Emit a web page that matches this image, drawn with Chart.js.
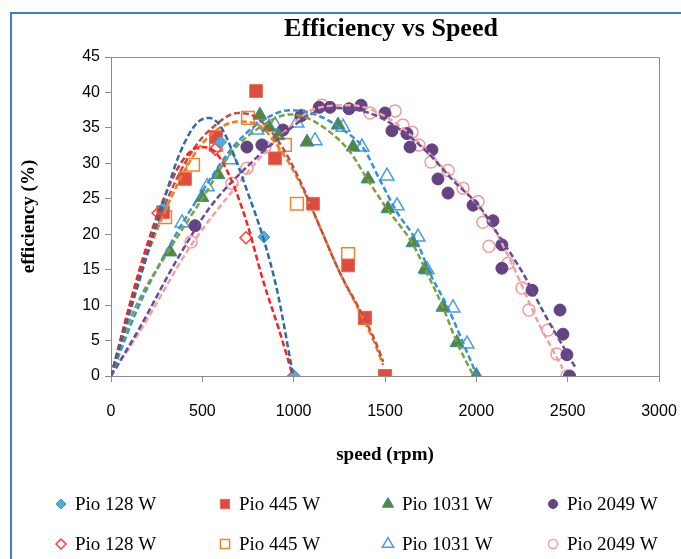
<!DOCTYPE html>
<html>
<head>
<meta charset="utf-8">
<title>Efficiency vs Speed</title>
<script src="https://cdn.jsdelivr.net/npm/chart.js"></script>
<style>
  html, body { margin: 0; padding: 0; background: #fff; }
  #wrap { position: relative; width: 681px; height: 559px; }
</style>
</head>
<body>
<div id="wrap"><canvas id="chartEfficiency" width="681" height="559"></canvas></div>
<script>
// measured points (speed in rpm, efficiency in %)
var speed128a = [285, 600, 837, 1000];
var eff128a = [23.7, 33.0, 19.6, 0];
var speed128b = [258, 570, 739, 1000];
var eff128b = [23.0, 32.0, 19.5, 0];

var speed445a = [285, 405, 575, 794, 898, 1106, 1298, 1390, 1500];
var eff445a = [23.1, 27.8, 33.7, 40.2, 30.7, 24.3, 15.6, 8.2, 0];
var speed445b = [296, 449, 575, 750, 952, 1018, 1298, 1390, 1500];
var eff445b = [22.4, 29.8, 32.6, 36.4, 32.6, 24.3, 17.2, 8.2, 0];

var speed1031a = [323, 498, 586, 815, 865, 915, 1073, 1243, 1325, 1407, 1516, 1653, 1719, 1817, 1894, 2000];
var eff1031a = [17.5, 25.2, 28.4, 36.8, 35.1, 33.9, 33.0, 35.4, 32.3, 27.8, 23.6, 18.8, 15.1, 9.7, 4.7, 0];
var speed1031b = [389, 526, 657, 799, 898, 1018, 1117, 1270, 1374, 1511, 1566, 1681, 1730, 1872, 1949, 2000];
var eff1031b = [21.6, 26.7, 30.5, 34.7, 35.4, 35.7, 33.2, 35.1, 32.3, 28.2, 24.0, 19.6, 15.0, 9.6, 4.5, 0];

var speed2049a = [460, 744, 826, 942, 1040, 1140, 1199, 1303, 1369, 1500, 1538, 1620, 1637, 1757, 1790, 1845, 1982, 2091, 2140, 2140, 2305, 2458, 2474, 2496, 2510];
var eff2049a = [21.2, 32.3, 32.6, 34.7, 36.7, 37.9, 37.9, 37.7, 38.2, 37.1, 34.6, 34.2, 32.3, 31.9, 27.8, 25.8, 24.1, 21.9, 18.5, 15.2, 12.1, 9.3, 5.9, 3.0, 0];
var speed2049b = [438, 662, 744, 843, 1045, 1155, 1418, 1555, 1598, 1648, 1686, 1752, 1845, 1927, 2009, 2036, 2069, 2173, 2250, 2288, 2392, 2441, 2496];
var eff2049b = [18.9, 27.2, 29.3, 32.3, 36.8, 38.2, 37.1, 37.4, 35.4, 34.4, 32.6, 30.2, 29.0, 26.5, 24.6, 21.7, 18.3, 15.9, 12.4, 9.3, 6.5, 3.1, 0];

// trend lines
var fitSpeed128a = [0, 150, 285, 378, 471, 540, 600, 668, 744, 832, 909, 995];
var fitEff128a = [0, 13, 24.4, 31.5, 35.7, 36.4, 35.2, 31.5, 26.2, 19.6, 12.1, 0.4];
var fitSpeed128b = [0, 150, 258, 361, 432, 487, 570, 651, 744, 832, 925, 991];
var fitEff128b = [0, 14.5, 23, 29.1, 31.6, 32.3, 31.6, 28.1, 21.6, 13.5, 6.1, 0.4];
var fitSpeed445a = [0, 150, 306, 449, 558, 695, 799, 925, 1035, 1144, 1254, 1363, 1445, 1490];
var fitEff445a = [0, 14, 24.8, 31.9, 35.1, 37.1, 36.4, 32.8, 27.5, 21, 14.5, 9.3, 5, 2];
var fitSpeed445b = [0, 150, 300, 449, 558, 700, 800, 925, 1035, 1144, 1254, 1363, 1445, 1490];
var fitEff445b = [0, 13.5, 23.5, 31, 34.3, 35.9, 35.5, 32, 27.2, 21, 14.5, 9, 4.5, 1.5];
var fitSpeed1031a = [0, 120, 312, 504, 662, 816, 980, 1073, 1199, 1309, 1407, 1516, 1648, 1730, 1817, 1894, 1985];
var fitEff1031a = [0, 8.9, 17.5, 25.2, 31.6, 35.1, 36.9, 36.4, 34.4, 31.6, 27.6, 23.4, 18.8, 14.5, 9.7, 4.7, 0];
var fitSpeed1031b = [0, 142, 312, 504, 668, 816, 980, 1128, 1254, 1380, 1473, 1566, 1675, 1746, 1845, 1927, 2004];
var fitEff1031b = [0, 9.3, 18, 26.2, 32.3, 35.8, 37.5, 36.8, 35, 32.2, 27.6, 23.1, 18.9, 14.5, 9.6, 4.7, 0];
var fitSpeed2049a = [0, 159, 361, 542, 744, 925, 1106, 1216, 1401, 1566, 1730, 1872, 2020, 2113, 2255, 2370, 2540];
var fitEff2049a = [0, 6.9, 16.4, 23.8, 29.5, 33.7, 37.1, 37.8, 37.2, 35.1, 31.6, 27.6, 23.8, 20.2, 14.5, 8.9, 1.3];
var fitSpeed2049b = [0, 175, 432, 668, 854, 1035, 1106, 1309, 1489, 1653, 1801, 1949, 2091, 2201, 2340, 2474];
var fitEff2049b = [0, 7.0, 18.2, 26.2, 31.9, 36.4, 37.6, 38.2, 36.8, 33.7, 29.8, 25.8, 21.0, 15.5, 7.5, 1.0];

var legendLabels = ["Pio 128 W", "Pio 445 W", "Pio 1031 W", "Pio 2049 W"];

function toPoints(xs, ys) {
    var arr = [];
    for (var i = 0; i < xs.length; i++) {
        arr.push({ x: xs[i], y: ys[i] });
    }
    return arr;
}

function markerSet(label, xs, ys, style, radius, fill, border, bw, legendRadius) {
    return {
        label: label,
        data: toPoints(xs, ys),
        pointStyle: style,
        pointRadius: radius,
        pointHoverRadius: radius,
        backgroundColor: fill,
        borderColor: border,
        pointBorderWidth: bw,
        showLine: false,
        order: 2,
        legendRadius: legendRadius
    };
}

function trendSet(xs, ys, color) {
    return {
        label: "trend",
        isTrend: true,
        data: toPoints(xs, ys),
        showLine: true,
        pointRadius: 0,
        borderColor: color,
        borderWidth: 2.5,
        borderDash: [6, 3],
        cubicInterpolationMode: 'monotone',
        fill: false,
        order: 1
    };
}

var serif = "'Liberation Serif', 'Times New Roman', serif";
var sans = "'Liberation Sans', Arial, sans-serif";

// title, plot frame, outer border and two row legend
var decorPlugin = {
    id: 'decor',
    beforeDraw: function (chart) {
        var ctx = chart.ctx;
        ctx.save();
        ctx.fillStyle = '#fff';
        ctx.fillRect(0, 0, chart.width, chart.height);
        ctx.strokeStyle = '#3b7dd8';
        ctx.lineWidth = 2;
        ctx.beginPath();
        ctx.moveTo(11, chart.height);
        ctx.lineTo(11, 13);
        ctx.lineTo(chart.width, 13);
        ctx.stroke();
        ctx.restore();
    },
    beforeDatasetsDraw: function (chart) {
        var a = chart.chartArea;
        var ctx = chart.ctx;
        ctx.save();
        ctx.strokeStyle = '#8c8c8c';
        ctx.lineWidth = 1;
        ctx.beginPath();
        ctx.moveTo(a.left, a.top + 0.5);
        ctx.lineTo(a.right + 0.5, a.top + 0.5);
        ctx.lineTo(a.right + 0.5, a.bottom);
        ctx.stroke();
        ctx.restore();
    },
    afterDraw: function (chart) {
        var ctx = chart.ctx;
        ctx.save();
        ctx.fillStyle = '#000';
        ctx.font = "bold 26px " + serif;
        ctx.textAlign = 'center';
        ctx.textBaseline = 'middle';
        ctx.fillText("Efficiency vs Speed", 391, 29);

        var colX = [61, 225, 388, 553];
        var rowY = [504, 544];
        var markers = chart.data.datasets.filter(function (d) { return !d.isTrend; });
        ctx.font = "19px " + serif;
        ctx.textAlign = 'left';
        for (var i = 0; i < markers.length; i++) {
            var d = markers[i];
            var col = i % 4;
            var row = i < 4 ? 0 : 1;
            ctx.fillStyle = d.backgroundColor;
            ctx.strokeStyle = d.borderColor;
            ctx.lineWidth = d.pointBorderWidth;
            Chart.helpers.drawPoint(ctx, {
                pointStyle: d.pointStyle,
                radius: d.legendRadius,
                rotation: 0,
                borderWidth: d.pointBorderWidth
            }, colX[col], rowY[row]);
            ctx.fillStyle = '#000';
            ctx.fillText(d.label, colX[col] + 14, rowY[row] + 1);
        }
        ctx.restore();
    }
};

function drawChartEfficiency() {
    var ctx = document.getElementById("chartEfficiency");
    var chart = new Chart(ctx, {
        type: 'scatter',
        data: {
            datasets: [
                // filled markers
                markerSet(legendLabels[0], speed128a, eff128a, 'rectRot', 6, '#55acd9', '#3f97c9', 1, 5),
                markerSet(legendLabels[1], speed445a, eff445a, 'rect', 9, '#df4b40', '#e86a4c', 1, 6.5),
                markerSet(legendLabels[2], speed1031a, eff1031a, 'triangle', 8, '#55892f', '#3a86c0', 1, 6.5),
                markerSet(legendLabels[3], speed2049a, eff2049a, 'circle', 6, '#634382', '#634382', 1, 4.5),
                // open markers
                markerSet(legendLabels[0], speed128b, eff128b, 'rectRot', 6, 'rgba(255,255,255,0)', '#ff3b3b', 1.5, 5),
                markerSet(legendLabels[1], speed445b, eff445b, 'rect', 9, 'rgba(255,255,255,0)', '#f4832e', 1.5, 6.5),
                markerSet(legendLabels[2], speed1031b, eff1031b, 'triangle', 8, 'rgba(255,255,255,0)', '#4a9de0', 1.5, 6.5),
                markerSet(legendLabels[3], speed2049b, eff2049b, 'circle', 6, 'rgba(255,255,255,0)', '#f29c9c', 1.5, 4.5),
                // dashed trend lines
                trendSet(fitSpeed128a, fitEff128a, '#2b6ca8'),
                trendSet(fitSpeed128b, fitEff128b, '#ff1f1f'),
                trendSet(fitSpeed445a, fitEff445a, '#b5524c'),
                trendSet(fitSpeed445b, fitEff445b, '#f77a1c'),
                trendSet(fitSpeed1031a, fitEff1031a, '#7ba23f'),
                trendSet(fitSpeed1031b, fitEff1031b, '#3592dc'),
                trendSet(fitSpeed2049a, fitEff2049a, '#6a4b97'),
                trendSet(fitSpeed2049b, fitEff2049b, '#f2a2a2')
            ]
        },
        options: {
            responsive: false,
            animation: false,
            layout: { padding: { left: 14, right: 22, top: 57, bottom: 93 } },
            plugins: {
                legend: { display: false },
                title: { display: false },
                tooltip: { enabled: false }
            },
            scales: {
                x: {
                    type: 'linear',
                    min: 0,
                    max: 3000,
                    afterFit: function (scale) {
                        scale.height = 90;
                        scale.paddingLeft = 0;
                        scale.paddingRight = 0;
                    },
                    ticks: {
                        stepSize: 500, padding: 20, color: '#000', font: { family: sans, size: 16 },
                        callback: function (value) { return String(value); }
                    },
                    grid: { drawOnChartArea: false, drawTicks: true, tickLength: 6, color: '#8c8c8c' },
                    border: { display: true, color: '#8c8c8c' },
                    title: {
                        display: true,
                        text: 'speed (rpm)',
                        color: '#000',
                        font: { family: serif, size: 19, weight: 'bold' },
                        padding: { top: 0, bottom: 0 }
                    }
                },
                y: {
                    min: 0,
                    max: 45,
                    afterFit: function (scale) {
                        scale.width = 97;
                        scale.paddingTop = 0;
                        scale.paddingBottom = 0;
                    },
                    ticks: { stepSize: 5, padding: 5, color: '#000', font: { family: sans, size: 16 } },
                    grid: { drawOnChartArea: false, drawTicks: true, tickLength: 6, color: '#8c8c8c' },
                    border: { display: true, color: '#8c8c8c' },
                    title: {
                        display: true,
                        text: 'efficiency (%)',
                        color: '#000',
                        font: { family: serif, size: 19, weight: 'bold' },
                        padding: { top: 4, bottom: 0 }
                    }
                }
            }
        },
        plugins: [decorPlugin]
    });
}

drawChartEfficiency();
</script>
</body>
</html>
